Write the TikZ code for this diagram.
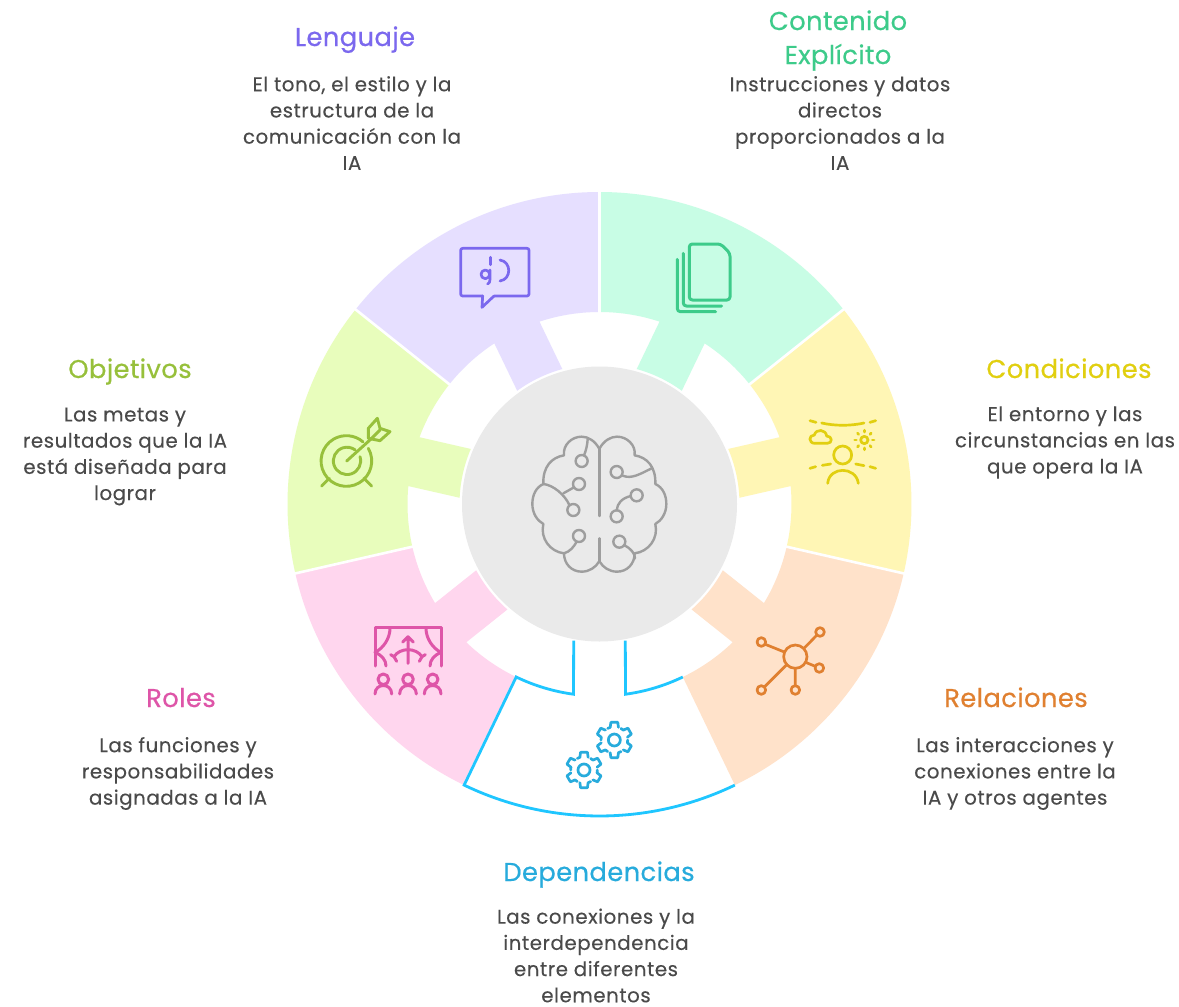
\documentclass[tikz,border=0pt]{standalone}
\usepackage{fontspec}
\setmainfont{Poppins}[LetterSpace=2.8,FakeBold=0.25]
\newfontfamily\ttlfont{Poppins}[LetterSpace=1.5,FakeBold=0.5]
\definecolor{txtc}{HTML}{4A4A4A}
\definecolor{purS}{HTML}{7B68EE}\definecolor{purF}{HTML}{E6DFFF}
\definecolor{grnS}{HTML}{3DCB8A}\definecolor{grnF}{HTML}{C8FDE5}
\definecolor{yelS}{HTML}{E1CF10}\definecolor{yelF}{HTML}{FFF6B5}
\definecolor{oraS}{HTML}{E08030}\definecolor{oraF}{HTML}{FFE2CA}
\definecolor{blueS}{HTML}{27ABDC}\definecolor{blueL}{HTML}{1FC6FF}
\definecolor{pinS}{HTML}{DE55A8}\definecolor{pinF}{HTML}{FFD6EE}
\definecolor{limS}{HTML}{97C03B}\definecolor{limF}{HTML}{E8FDBC}
\definecolor{greyF}{HTML}{EAEAEA}\definecolor{greyS}{HTML}{9E9E9E}
\tikzset{
  ttl/.style={font=\ttlfont\fontsize{25.8}{34}\selectfont,align=center,inner sep=0pt,anchor=base},
  bod/.style={font=\fontsize{19.8}{26.2}\selectfont,align=center,inner sep=0pt,text=txtc},
  ico/.style={line width=2.7pt,line cap=round,line join=round}
}
\newcommand{\petal}[2]{%
  \pgfmathsetmacro\angA{#2-25.714}\pgfmathsetmacro\angB{#2+25.714}%
  \pgfmathsetmacro\tabC{#2+7.5}\pgfmathsetmacro\tabD{#2+10.3}%
  \pgfmathsetmacro\tabE{#2-10.3}\pgfmathsetmacro\tabF{#2-7.5}%
  \fill[#1] (\angA:312) arc[start angle=\angA,end angle=\angB,radius=312]
    -- (\angB:192) arc[start angle=\angB,end angle=\tabC,radius=192]
    -- (\tabD:140) arc[start angle=\tabD,end angle=\tabE,radius=140]
    -- (\tabF:192) arc[start angle=\tabF,end angle=\angA,radius=192] -- cycle;}
\begin{document}
\begin{tikzpicture}[x=1pt,y=1pt,yscale=-1]
\useasboundingbox (0,0) rectangle (1179,1007);
\fill[white] (0,0) rectangle (1179,1007);
% ring of sectors
\begin{scope}[shift={(599.5,504)}]
  \petal{grnF}{-64.286}
  \petal{yelF}{-12.857}
  \petal{oraF}{38.571}
  \petal{pinF}{141.429}
  \petal{limF}{192.857}
  \petal{purF}{244.286}
  \foreach \q in {-90,-38.571,12.857,167.143,218.571,115.714}
    \draw[white,line width=2.6pt] (\q:190) -- (\q:315);
  % Dependencias sector outline
  \draw[blueL,line width=2.8pt,line join=miter]
    (64.286:192) arc[start angle=64.286,end angle=82.22,radius=192] -- (79.3:139);
  \draw[blueL,line width=2.8pt,line join=miter]
    (100.7:139) -- (97.78:192) arc[start angle=97.78,end angle=115.714,radius=192]
    -- (115.714:312) arc[start angle=115.714,end angle=64.286,radius=312];
\end{scope}
\node[circle,fill=greyF,minimum size=275pt,inner sep=0pt] (centre) at (599.5,504) {};
% brain
\begin{scope}[shift={(500,410)},scale=1/3,greyS,line width=2.4pt,line cap=round,line join=round]
  \foreach \s/\o in {1/0,-1/596}{
    \begin{scope}[xshift=\o,xscale=\s]
    \draw (297,115) .. controls (285,93) and (265,80) .. (245,80)
       .. controls (215,80) and (188,105) .. (192,136)
       .. controls (155,142) and (128,170) .. (130,222)
       .. controls (108,232) and (97,255) .. (97,282)
       .. controls (97,310) and (112,332) .. (130,342)
       .. controls (120,385) and (150,425) .. (192,430)
       .. controls (192,462) and (215,485) .. (245,485)
       .. controls (268,485) and (287,472) .. (297,455);
    \end{scope}}
  \draw (298,115) -- (298,318) (298,385) -- (298,455);
  \draw (245,153) circle[radius=18] (237,222) circle[radius=18] (220,300) circle[radius=18] (237,378) circle[radius=18];
  \draw (350,186) circle[radius=18] (410,256) circle[radius=18] (350,319) circle[radius=18] (358,395) circle[radius=18];
  \draw (263,88) .. controls (262,105) and (258,122) .. (252,136);
  \draw (222,232) -- (190,250);
  \draw (130,222) .. controls (160,225) and (195,255) .. (208,285);
  \draw (230,395) .. controls (222,410) and (210,425) .. (192,430);
  \draw (368,197) .. controls (395,208) and (420,192) .. (455,175);
  \draw (392,258) .. controls (365,265) and (352,280) .. (350,301);
  \draw (372,405) .. controls (392,415) and (405,430) .. (405,445);
\end{scope}
% speech bubble
\begin{scope}[shift={(400,180)},scale=1/3,purS,ico]
  \draw[rounded corners=2pt] (248,348) -- (182,348) -- (182,205) -- (387,205) -- (387,348) -- (282,348);
  \draw (248,348) -- (246,382) -- (282,348);
  \draw (271,232) -- (271,254);
  \draw (256,283) circle[radius=13];
  \draw (270,270) -- (270,298) .. controls (270,305) and (268,310) .. (263,312);
  \draw (300,240) .. controls (335,245) and (335,298) .. (300,303);
\end{scope}
% documents
\begin{scope}[shift={(400,180)},scale=1/3,grnS,line width=3pt,line cap=round,line join=round]
  \draw[rounded corners=3pt] (868,192) -- (962,192) -- (990,220) -- (990,360) -- (868,360) -- cycle;
  \draw[rounded corners=3pt] (850,220) -- (850,378) -- (965,378);
  \draw[rounded corners=3pt] (832,238) -- (832,395) -- (947,395);
\end{scope}
% person with weather
\begin{scope}[shift={(720,400)},scale=1/3,yelS,ico]
  \draw (270,62) -- (288,67) (450,67) -- (467,62);
  \draw (305,69) .. controls (345,78) and (392,78) .. (432,69);
  \draw (285,130) .. controls (265,130) and (265,105) .. (283,105)
     .. controls (288,85) and (318,88) .. (320,108)
     .. controls (338,108) and (338,130) .. (322,130) -- cycle;
  \draw (433,120) circle[radius=11];
  \foreach \r in {0,45,...,315} \draw (\r:24) ++(433,120) -- ++(\r:5);
  \draw (368,165) circle[radius=27];
  \draw (323,250) .. controls (328,198) and (408,198) .. (415,250);
  \draw (270,205) -- (287,200) (307,196) -- (332,192) (407,192) -- (432,197) (450,200) -- (467,205);
\end{scope}
% network
\begin{scope}[shift={(450,630)},scale=1/3,oraS,ico]
  \draw (1036,80) circle[radius=35];
  \draw (934,36) circle[radius=13] (1110,6) circle[radius=13] (1108,114) circle[radius=13]
        (1036,180) circle[radius=13] (934,180) circle[radius=13];
  \draw (946,43) -- (1003,66) (1062,55) -- (1100,16) (1067,97) -- (1096,109)
        (1036,115) -- (1036,167) (1010,104) -- (944,170);
\end{scope}
% gears
\begin{scope}[shift={(450,630)},scale=1/3,blueS,ico]
  \foreach \gx/\gy in {493/330,402/420}{
    \begin{scope}[shift={(\gx,\gy)}]
    \draw (0,0) circle[radius=18];
    \foreach \k in {0,...,5}{
      \pgfmathsetmacro\ga{-90+\k*60}
      \pgfmathsetmacro\gb{\ga-30}\pgfmathsetmacro\gc{\ga-18}
      \pgfmathsetmacro\gd{\ga-11}\pgfmathsetmacro\ge{\ga+11}
      \pgfmathsetmacro\gf{\ga+18}
      \draw (\gb:40) arc[start angle=\gb,end angle=\gc,radius=40] -- (\gd:54) -- (\ge:54) -- (\gf:40);
    }
    \end{scope}}
\end{scope}
% stage
\begin{scope}[shift={(300,400)},scale=1/3,pinS,line width=3pt,line cap=round,line join=round]
  \draw (225,798) -- (225,683) -- (423,683) -- (423,798);
  \draw (270,685) .. controls (270,715) and (250,745) .. (225,757) .. controls (245,765) and (258,780) .. (258,798);
  \draw (378,685) .. controls (378,715) and (398,745) .. (423,757) .. controls (403,765) and (390,780) .. (390,798);
  \draw (324,790) -- (324,710) (308,726) -- (324,710) -- (340,726);
  \draw (282,770) .. controls (300,742) and (348,742) .. (366,770);
  \draw (272,764) -- (282,770) -- (290,784) (376,764) -- (366,770) -- (358,784);
  \foreach \p in {250,324,398}{
    \begin{scope}[xshift=\p]
    \draw (0,838) circle[radius=16];
    \draw (-25,882) .. controls (-25,848) and (25,848) .. (25,882);
    \end{scope}}
\end{scope}
% target
\begin{scope}[shift={(300,400)},scale=1/3,limS,line width=2.9pt,line cap=round,line join=round]
  \draw (205,145) arc[start angle=-30,end angle=311,radius=76];
  \draw (180,170) arc[start angle=-18,end angle=307,radius=41];
  \draw (140,183) -- (212,118);
  \draw (205,85) -- (232,55) -- (240,85) -- (270,95) -- (240,122) -- (205,115) -- cycle;
  \draw (212,118) -- (240,90);
  \draw (65,258) -- (88,235) (215,258) -- (192,235);
\end{scope}
% labels
\node[ttl,text=purS] (t1) at (355,46) {Lenguaje};
\node[bod] (b1) at (352,123) {El tono, el estilo y la\\estructura de la\\comunicación con la\\IA};
\node[ttl,text=grnS] (t2) at (838,30) {Contenido};
\node[ttl,text=grnS] (t2b) at (838,64) {Explícito};
\node[bod] (b2) at (840,123) {Instrucciones y datos\\directos\\proporcionados a la\\IA};
\node[ttl,text=yelS] (t3) at (1069,378) {Condiciones};
\node[bod] (b3) at (1065,442.5) {El entorno y las\\circunstancias en las\\que opera la IA};
\node[ttl,text=oraS] (t4) at (1016,707) {Relaciones};
\node[bod] (b4) at (1015,773.5) {Las interacciones y\\conexiones entre la\\IA y otros agentes};
\node[ttl,text=blueS] (t5) at (599,881) {Dependencias};
\node[bod] (b5) at (596,955.5) {Las conexiones y la\\interdependencia\\entre diferentes\\elementos};
\node[ttl,text=pinS] (t6) at (181,707) {Roles};
\node[bod] (b6) at (178,773.5) {Las funciones y\\responsabilidades\\asignadas a la IA};
\node[ttl,text=limS] (t7) at (130,378) {Objetivos};
\node[bod] (b7) at (125,456.5) {Las metas y\\resultados que la IA\\está diseñada para\\lograr};
\end{tikzpicture}
\end{document}
